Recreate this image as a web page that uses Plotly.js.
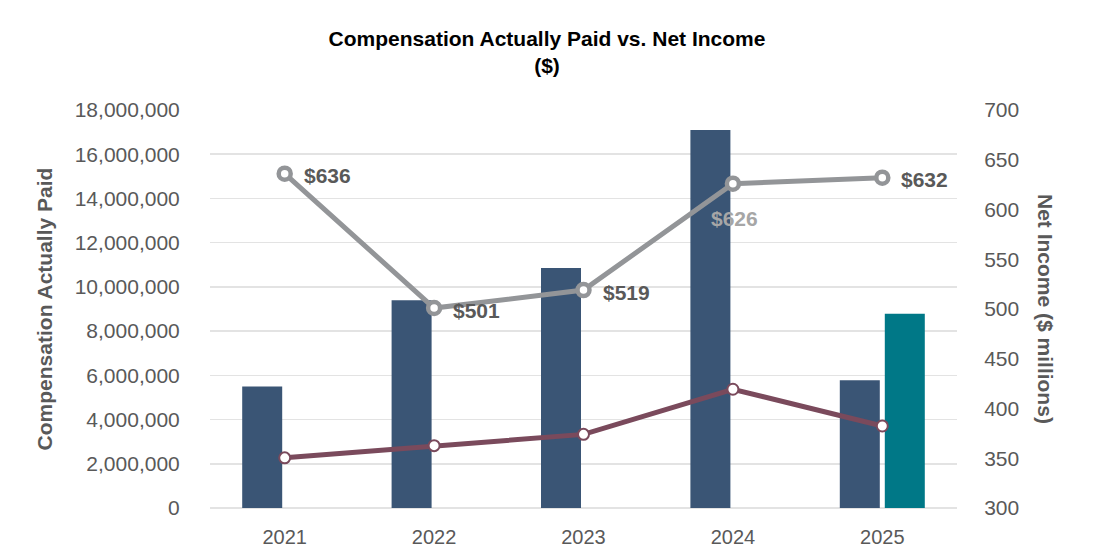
<!DOCTYPE html>
<html>
<head>
<meta charset="utf-8">
<script src="https://cdn.plot.ly/plotly-3.0.1.min.js"></script>
<style>html,body{margin:0;padding:0;background:#fff;}#chart{width:1094px;height:556px;}</style>
</head>
<body>
<div id="chart"></div>
<script>
// ---- data ----
const years = ['2021', '2022', '2023', '2024', '2025'];
const peo1Cap = [5500000, 9400000, 10850000, 17100000, 5780000];
const peo2Cap = [null, null, null, null, 8780000];
const avgNeoCap = [2270000, 2820000, 3330000, 5370000, 3710000];
const netIncome = [636, 501, 519, 626, 632];
const netIncomeLabels = ['$636', '$501', '$519', '$626', '$632'];

const FONT = 'Liberation Sans, Arial, Helvetica, sans-serif';
const GREY = '#595959';
const LIGHT = '#A6A6A6';

const traces = [
  {
    type: 'bar', name: 'PEO 1 CAP', x: years, y: peo1Cap, yaxis: 'y',
    marker: {color: '#3A5575'}
  },
  {
    type: 'bar', name: 'PEO 2 CAP', x: years, y: peo2Cap, yaxis: 'y',
    marker: {color: '#007887'}
  },
  {
    type: 'scatter', mode: 'lines+markers', name: 'Average Non-PEO NEO CAP',
    x: years, y: avgNeoCap, yaxis: 'y',
    line: {color: '#7A4A5C', width: 5},
    marker: {symbol: 'circle', size: 11, color: '#FFFFFF', line: {color: '#7A4A5C', width: 2}}
  },
  {
    type: 'scatter', mode: 'lines+markers', name: 'Net Income',
    x: years, y: netIncome, yaxis: 'y2',
    line: {color: '#939598', width: 5},
    marker: {symbol: 'circle', size: 12, color: '#FFFFFF', line: {color: '#939598', width: 4.5}},
    cliponaxis: false
  }
];

// data labels for net income (the 2024 label sits below its point);
// x is the category's serial index on the category axis
const labelAnnotations = netIncome.map((v, i) => {
  const below = (i === 3);
  return {
    x: i, y: v, xref: 'x', yref: 'y2',
    text: '<b>' + netIncomeLabels[i] + '</b>', showarrow: false,
    xanchor: below ? 'center' : 'left', yanchor: 'middle',
    xshift: below ? 2 : 17, yshift: below ? -35 : -2,
    font: {family: FONT, size: 21, color: below ? LIGHT : GREY}
  };
});

const layout = {
  width: 1094, height: 556,
  margin: {l: 210, r: 137, t: 110, b: 48},
  paper_bgcolor: '#FFFFFF', plot_bgcolor: '#FFFFFF',
  font: {family: FONT, color: GREY, size: 21},
  showlegend: false,
  barmode: 'group', bargap: 0.3976, bargroupgap: 0.111,
  title: {
    text: '<b>Compensation Actually Paid vs. Net Income</b><br><b>($)</b>',
    font: {family: FONT, size: 21, color: '#000000'},
    x: 0.5, xref: 'container', xanchor: 'center',
    y: 1 - 46 / 556, yref: 'container', yanchor: 'top'
  },
  xaxis: {
    type: 'category', categoryarray: years, categoryorder: 'array',
    showgrid: false, zeroline: false, showline: false,
    ticks: 'outside', ticklen: 11, tickcolor: 'rgba(0,0,0,0)',
    tickfont: {family: FONT, size: 20, color: GREY}
  },
  yaxis: {
    range: [0, 18000000], dtick: 2000000, tickformat: ',',
    showgrid: true, gridcolor: '#E3E3E3', gridwidth: 1.5,
    zeroline: true, zerolinecolor: '#E3E3E3', zerolinewidth: 1.5,
    showline: false,
    ticks: 'outside', ticklen: 25, tickcolor: 'rgba(0,0,0,0)',
    tickfont: {family: FONT, size: 21, color: GREY},
    title: {text: '<b>Compensation Actually Paid</b>', font: {family: FONT, size: 21, color: GREY}, standoff: 16}
  },
  yaxis2: {
    overlaying: 'y', side: 'right',
    range: [300, 700], dtick: 50,
    showgrid: false, zeroline: false, showline: false,
    ticks: 'outside', ticklen: 22, tickcolor: 'rgba(0,0,0,0)',
    tickfont: {family: FONT, size: 21, color: GREY}
  },
  annotations: labelAnnotations.concat([
    {
      text: '<b>Net Income ($ millions)</b>', textangle: 90,
      xref: 'paper', yref: 'paper', x: 1, xshift: 89, y: 0.5,
      xanchor: 'center', yanchor: 'middle', showarrow: false,
      font: {family: FONT, size: 21, color: GREY}
    }
  ])
};

Plotly.newPlot('chart', traces, layout, {displayModeBar: false, staticPlot: true});
</script>
</body>
</html>
